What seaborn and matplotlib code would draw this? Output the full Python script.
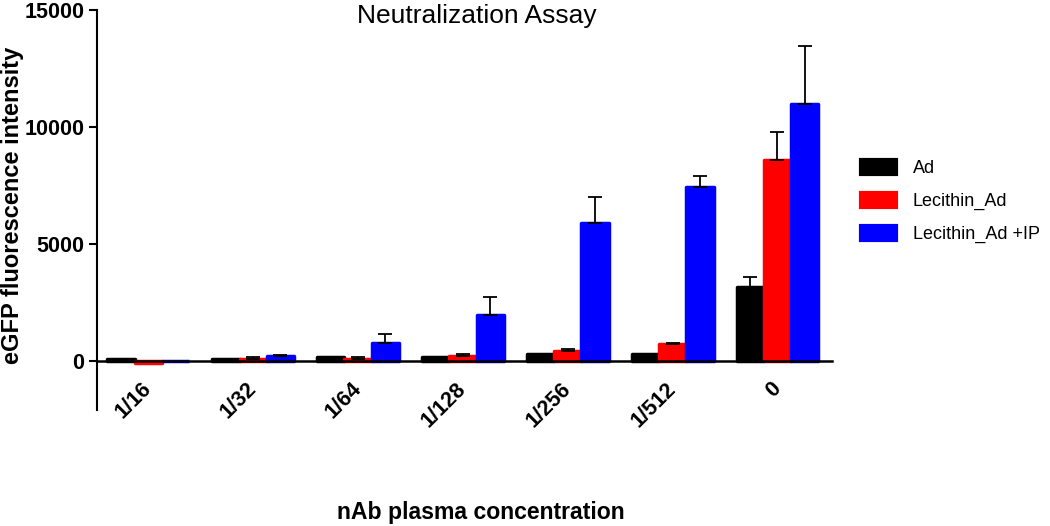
import matplotlib
matplotlib.use("Agg")
import matplotlib.pyplot as plt
import seaborn as sns
import numpy as np
import pandas as pd

categories = ["1/16", "1/32", "1/64", "1/128", "1/256", "1/512", "0"]
groups = ["Ad", "Lecithin_Ad", "Lecithin_Ad +IP"]
ad_vals = [60, 60, 180, 170, 290, 280, 3150]
lec_vals = [-110, 70, 90, 200, 420, 730, 8580]
lecip_vals = [15, 200, 780, 1980, 5900, 7420, 11000]
ad_err = [0, 0, 0, 0, 0, 0, 420]
lec_err = [0, 80, 60, 100, 90, 50, 1200]
lecip_err = [0, 50, 370, 750, 1100, 480, 2480]
colors = ["#000000", "#ff0000", "#0000ff"]

sns.set_style("white")
plt.rcParams["font.family"] = ["Liberation Sans", "DejaVu Sans"]
plt.rcParams["text.color"] = "black"
plt.rcParams["xtick.color"] = "black"
plt.rcParams["ytick.color"] = "black"
plt.rcParams["axes.labelcolor"] = "black"

df = pd.DataFrame({
    "conc": categories * 3,
    "group": [g for g in groups for _ in categories],
    "value": ad_vals + lec_vals + lecip_vals,
})
errs = [ad_err, lec_err, lecip_err]

fig = plt.figure(figsize=(10.5, 5.26), dpi=100)
ax = fig.add_axes([97 / 1050, 1 - 410 / 526, (832 - 97) / 1050, 400 / 526])

sns.barplot(data=df, x="conc", y="value", hue="group", order=categories,
            hue_order=groups, palette=colors, errorbar=None, width=0.78,
            saturation=1, ax=ax, legend=True)

for cont, err, col in zip(ax.containers, errs, colors):
    xs, tops = [], []
    for p in cont.patches:
        p.set_edgecolor(col)
        p.set_linewidth(2.5)
        p.set_joinstyle("round")
        xs.append(p.get_x() + p.get_width() / 2)
        tops.append(p.get_y() + p.get_height())
    e = np.array(err, dtype=float)
    mask = e > 0
    ax.errorbar(np.array(xs)[mask], np.array(tops)[mask],
                yerr=[np.zeros(mask.sum()), e[mask]], fmt="none",
                ecolor="black", elinewidth=1.3, capsize=5, capthick=1.3, zorder=1)

for s in ["top", "right"]:
    ax.spines[s].set_visible(False)
ax.spines["left"].set_linewidth(1.5)
ax.spines["bottom"].set_linewidth(1.8)
ax.spines["bottom"].set_position(("data", 0))
ax.spines["left"].set_color("black")
ax.spines["bottom"].set_color("black")

ax.set_ylim(-2100, 15000)
ax.set_xlim(-0.49, 6.52)
ax.set_yticks([0, 5000, 10000, 15000])
ax.set_yticklabels(["0", "5000", "10000", "15000"], fontsize=15.5, fontweight="bold")
ax.tick_params(axis="y", direction="out", length=6, width=1.5, pad=3, left=True)
ax.set_xticks(range(len(categories)))
ax.set_xticklabels(categories, rotation=45, rotation_mode="anchor", ha="right",
                   va="center", fontsize=15.5, fontweight="bold")
ax.tick_params(axis="x", length=0, pad=18)

ax.set_xlabel("")
ax.set_ylabel("")
fig.text(13 / 1050, 1 - 205 / 526, "eGFP fluorescence intensity", rotation=90,
         ha="center", va="center", fontsize=17, fontweight="bold")
fig.text(481 / 1050, 1 - 513 / 526, "nAb plasma concentration",
         ha="center", va="center", fontsize=16.6, fontweight="bold")
fig.text(477 / 1050, 1 - 16 / 526, "Neutralization Assay",
         ha="center", va="center", fontsize=19)

handles, labels = ax.get_legend_handles_labels()
ax.get_legend().remove()
for h, col in zip(handles, colors):
    h.set_edgecolor(col)
    h.set_linewidth(3)
    h.set_joinstyle("round")
fig.legend(handles, labels, loc="center left",
           bbox_to_anchor=(848 / 1050, 1 - 201.5 / 526), frameon=False,
           fontsize=13, handlelength=1.95, handleheight=0.85,
           labelspacing=0.85, handletextpad=0.95, borderpad=0.2)

fig.savefig("out.png", dpi=100)
